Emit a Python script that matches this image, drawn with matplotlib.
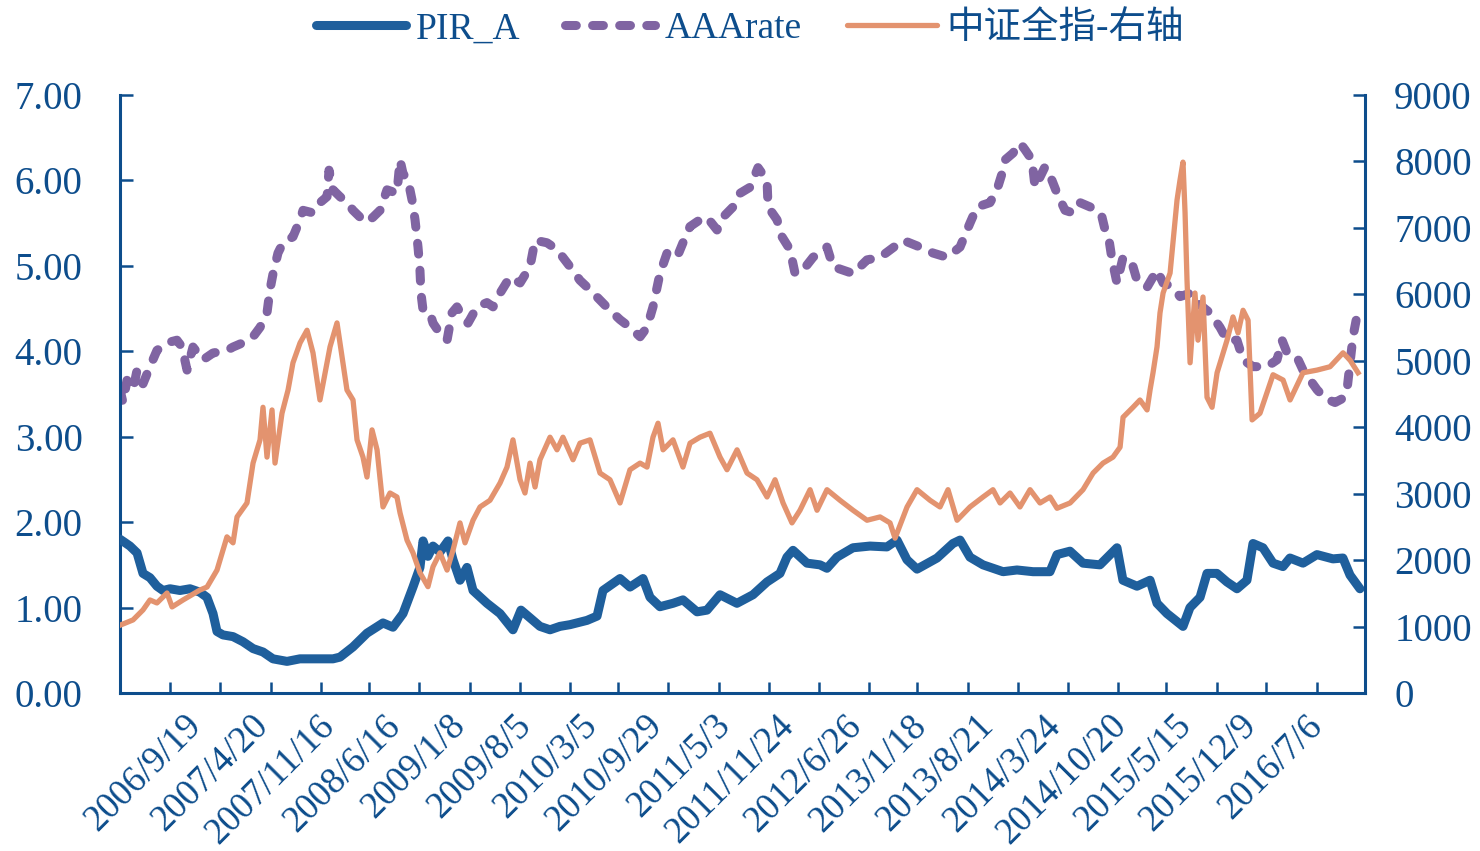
import numpy as np
import pandas as pd
import matplotlib
matplotlib.use("Agg")
import matplotlib.pyplot as plt
from matplotlib.lines import Line2D

# ---------------- data (time in decimal years) ----------------
pir_t = [2006.153,2006.197,2006.240,2006.302,2006.354,2006.415,2006.476,2006.529,2006.590,2006.677,
         2006.765,2006.852,2006.913,2006.966,2007.001,2007.053,2007.141,2007.228,2007.316,2007.403,
         2007.490,2007.613,2007.726,2007.814,2007.901,2008.015,2008.076,2008.190,2008.312,2008.452,
         2008.539,2008.627,2008.714,2008.775,2008.802,2008.845,2008.889,2008.950,2009.020,2009.064,
         2009.125,2009.186,2009.239,2009.361,2009.475,2009.588,2009.658,2009.737,2009.824,2009.912,
         2009.999,2010.087,2010.235,2010.323,2010.375,2010.524,2010.611,2010.725,2010.786,2010.873,
         2010.987,2011.074,2011.197,2011.284,2011.398,2011.546,2011.686,2011.809,2011.922,2011.983,
         2012.036,2012.158,2012.272,2012.333,2012.420,2012.560,2012.709,2012.857,2012.945,2013.032,
         2013.120,2013.295,2013.434,2013.496,2013.583,2013.697,2013.872,2013.994,2014.134,2014.282,
         2014.344,2014.457,2014.571,2014.719,2014.868,2014.920,2015.043,2015.157,2015.218,2015.305,
         2015.445,2015.506,2015.594,2015.655,2015.742,2015.829,2015.917,2016.004,2016.057,2016.144,
         2016.232,2016.319,2016.380,2016.494,2016.616,2016.756,2016.843,2016.905,2016.992]
pir_v = [1.80,1.76,1.72,1.64,1.40,1.35,1.25,1.20,1.22,1.20,
         1.22,1.18,1.12,0.93,0.72,0.68,0.66,0.60,0.52,0.48,
         0.40,0.37,0.40,0.40,0.40,0.40,0.42,0.54,0.70,0.82,
         0.77,0.93,1.24,1.47,1.78,1.60,1.72,1.65,1.78,1.56,
         1.32,1.47,1.20,1.05,0.93,0.74,0.97,0.88,0.78,0.74,
         0.78,0.80,0.85,0.90,1.20,1.34,1.24,1.34,1.12,1.01,
         1.05,1.09,0.95,0.97,1.15,1.05,1.15,1.30,1.40,1.59,
         1.67,1.52,1.50,1.46,1.59,1.70,1.72,1.71,1.79,1.56,
         1.45,1.58,1.75,1.79,1.59,1.50,1.42,1.44,1.42,1.42,
         1.62,1.66,1.52,1.50,1.70,1.32,1.25,1.32,1.05,0.93,
         0.78,1.00,1.12,1.40,1.40,1.30,1.22,1.32,1.75,1.70,
         1.52,1.48,1.58,1.52,1.62,1.57,1.58,1.38,1.22]

aaa_t = [2006.153,2006.179,2006.214,2006.267,2006.302,2006.354,2006.415,2006.476,2006.564,2006.651,
         2006.695,2006.739,2006.791,2006.879,2006.966,2007.088,2007.141,2007.228,2007.316,2007.377,
         2007.438,2007.464,2007.491,2007.534,2007.578,2007.665,2007.727,2007.753,2007.840,2007.901,
         2007.963,2007.980,2008.015,2008.076,2008.137,2008.190,2008.251,2008.312,2008.365,2008.426,
         2008.487,2008.574,2008.601,2008.627,2008.671,2008.706,2008.732,2008.758,2008.775,2008.784,
         2008.802,2008.863,2008.889,2008.950,2009.012,2009.055,2009.099,2009.151,2009.195,2009.274,
         2009.361,2009.414,2009.475,2009.562,2009.650,2009.737,2009.781,2009.886,2009.973,2010.087,
         2010.174,2010.261,2010.349,2010.436,2010.524,2010.611,2010.699,2010.760,2010.812,2010.873,
         2010.935,2011.022,2011.074,2011.136,2011.223,2011.284,2011.372,2011.424,2011.512,2011.573,
         2011.660,2011.730,2011.809,2011.818,2011.896,2011.940,2012.010,2012.054,2012.123,2012.211,
         2012.333,2012.386,2012.473,2012.561,2012.683,2012.797,2012.858,2012.998,2013.146,2013.260,
         2013.382,2013.496,2013.583,2013.645,2013.758,2013.819,2013.863,2013.889,2013.959,2014.020,
         2014.064,2014.125,2014.152,2014.195,2014.239,2014.300,2014.344,2014.414,2014.484,2014.545,
         2014.632,2014.702,2014.737,2014.764,2014.799,2014.825,2014.868,2014.921,2015.000,2015.043,
         2015.131,2015.218,2015.271,2015.358,2015.419,2015.507,2015.568,2015.681,2015.769,2015.830,
         2015.917,2015.970,2016.057,2016.180,2016.267,2016.311,2016.355,2016.442,2016.494,2016.617,
         2016.687,2016.774,2016.844,2016.879,2016.931,2016.975]
aaa_v = [3.55,3.40,3.66,3.55,3.78,3.62,3.82,4.01,4.10,4.13,
         4.05,3.78,4.05,3.90,3.98,4.01,4.05,4.10,4.17,4.28,
         4.45,4.72,4.91,5.15,5.27,5.34,5.54,5.65,5.62,5.74,
         5.81,6.12,5.89,5.81,5.74,5.65,5.57,5.51,5.57,5.65,
         5.89,5.85,6.24,6.08,6.00,5.77,5.54,5.22,4.95,4.68,
         4.48,4.45,4.33,4.21,4.13,4.45,4.52,4.40,4.33,4.52,
         4.57,4.52,4.68,4.87,4.80,4.99,5.30,5.27,5.19,4.99,
         4.83,4.72,4.60,4.48,4.37,4.28,4.17,4.28,4.52,4.91,
         5.15,5.10,5.27,5.46,5.54,5.57,5.42,5.57,5.69,5.85,
         5.92,6.15,6.00,5.69,5.54,5.34,5.19,4.91,4.95,5.10,
         5.22,4.99,4.95,4.91,5.07,5.10,5.16,5.30,5.22,5.15,
         5.10,5.22,5.50,5.69,5.74,5.89,6.08,6.24,6.32,6.44,
         6.36,6.24,5.92,6.04,6.16,6.00,5.85,5.65,5.62,5.74,
         5.69,5.65,5.57,5.42,5.30,5.07,4.80,5.10,5.03,4.83,
         4.75,4.95,4.80,4.75,4.64,4.68,4.57,4.45,4.28,4.13,
         4.13,3.90,3.82,3.82,3.90,4.13,3.98,3.93,3.78,3.55,
         3.45,3.40,3.45,3.55,4.17,4.48]

csi_t = [2006.153,2006.267,2006.354,2006.415,2006.476,2006.564,2006.608,2006.704,2006.852,2006.914,
         2007.001,2007.088,2007.141,2007.176,2007.263,2007.316,2007.377,2007.403,2007.438,2007.482,
         2007.508,2007.569,2007.622,2007.665,2007.727,2007.788,2007.840,2007.901,2007.989,2008.050,
         2008.102,2008.137,2008.190,2008.225,2008.277,2008.312,2008.356,2008.400,2008.452,2008.513,
         2008.574,2008.601,2008.662,2008.714,2008.775,2008.845,2008.889,2008.950,2009.012,2009.064,
         2009.125,2009.169,2009.239,2009.300,2009.387,2009.475,2009.536,2009.588,2009.650,2009.693,
         2009.737,2009.781,2009.824,2009.912,2009.973,2010.025,2010.113,2010.174,2010.261,2010.349,
         2010.436,2010.524,2010.611,2010.699,2010.760,2010.812,2010.856,2010.900,2010.987,2011.074,
         2011.136,2011.223,2011.310,2011.398,2011.459,2011.547,2011.634,2011.721,2011.809,2011.879,
         2011.949,2012.027,2012.097,2012.185,2012.246,2012.333,2012.447,2012.561,2012.683,2012.797,
         2012.884,2012.928,2013.033,2013.120,2013.234,2013.321,2013.391,2013.470,2013.583,2013.697,
         2013.784,2013.846,2013.933,2014.020,2014.108,2014.195,2014.283,2014.344,2014.458,2014.571,
         2014.659,2014.746,2014.833,2014.895,2014.921,2015.008,2015.069,2015.131,2015.157,2015.183,
         2015.218,2015.244,2015.271,2015.332,2015.393,2015.419,2015.445,2015.463,2015.480,2015.507,
         2015.550,2015.576,2015.620,2015.655,2015.699,2015.743,2015.830,2015.882,2015.926,2015.970,
         2016.014,2016.049,2016.118,2016.232,2016.320,2016.381,2016.494,2016.617,2016.730,2016.844,
         2016.905,2016.975]
csi_v = [1020,1100,1250,1400,1355,1505,1295,1400,1550,1595,
         1850,2350,2260,2650,2860,3460,3810,4300,3550,4260,
         3460,4210,4560,4970,5270,5460,5120,4410,5210,5570,
         4970,4560,4410,3810,3550,3250,3960,3660,2800,3010,
         2950,2710,2300,2110,1810,1600,1900,2110,1850,2150,
         2560,2260,2600,2800,2900,3160,3400,3810,3210,3010,
         3460,3100,3510,3850,3660,3850,3510,3760,3810,3310,
         3210,2860,3360,3460,3400,3850,4060,3660,3810,3400,
         3760,3850,3910,3550,3360,3660,3310,3210,2950,3210,
         2860,2560,2750,3060,2750,3060,2900,2750,2600,2650,
         2560,2330,2800,3060,2900,2800,3060,2600,2800,2950,
         3060,2860,3010,2800,3060,2860,2950,2780,2860,3060,
         3310,3460,3550,3700,4150,4300,4410,4260,4560,4820,
         5210,5720,6020,6320,7420,7720,7990,7230,6220,4970,
         6020,5310,5960,4450,4300,4820,5310,5660,5420,5760,
         5610,4110,4210,4790,4710,4410,4820,4860,4910,5120,
         5010,4820]

x_labels = ["2006/9/19", "2007/4/20", "2007/11/16", "2008/6/16", "2009/1/8", "2009/8/5",
            "2010/3/5", "2010/9/29", "2011/5/3", "2011/11/24", "2012/6/26", "2013/1/18",
            "2013/8/21", "2014/3/24", "2014/10/20", "2015/5/15", "2015/12/9", "2016/7/6"]
tick_dates = ["2006-08-05", "2007-01-11", "2007-06-22", "2007-11-29", "2008-05-01", "2008-10-08",
              "2009-03-18", "2009-08-25", "2010-02-01", "2010-07-04", "2010-12-11", "2011-05-22",
              "2011-10-29", "2012-04-07", "2012-09-13", "2013-02-14", "2013-07-25", "2014-01-02",
              "2014-06-11", "2014-11-17", "2015-04-18", "2015-09-28", "2016-03-05", "2016-08-14"]
left_ticks = [0, 1, 2, 3, 4, 5, 6, 7]
right_ticks = [0, 1000, 2000, 3000, 4000, 5000, 6000, 7000, 8000, 9000]
series_names = ["PIR_A", "AAArate", "中证全指-右轴"]

# ---------------- style ----------------
C_TEXT = "#0d4d8c"
C_AXIS = "#0d4d8c"
C_PIR = "#1f5f9c"
C_AAA = "#8064a2"
C_CSI = "#e3936f"
FS = 28

plt.rcParams["font.family"] = ["Liberation Serif", "Noto Sans CJK SC"]


def to_year(s):
    d = pd.to_datetime(s.replace("/", "-"))
    return 2006 + (d - pd.Timestamp("2006-01-01")).days / 365.25


fig = plt.figure(figsize=(14.8, 8.51), dpi=100)
L, R, B, T = 120 / 1480, 1365 / 1480, 1 - 693 / 851, 1 - 95 / 851
ax = fig.add_axes([L, B, R - L, T - B])
ax2 = ax.twinx()

ax.plot(pir_t, pir_v, color=C_PIR, lw=6.5, solid_joinstyle="round", solid_capstyle="round", zorder=3)
ax.plot(aaa_t, aaa_v, color=C_AAA, lw=6.5, linestyle=(0, (1.2, 1.8)),
        dash_capstyle="round", dash_joinstyle="round", zorder=2)
ax2.plot(csi_t, csi_v, color=C_CSI, lw=3.8, solid_joinstyle="round", zorder=3)

ax.set_xlim(2006.153, 2017.036)
ax.set_ylim(0, 7)
ax2.set_ylim(0, 9000)

for a in (ax, ax2):
    a.spines["top"].set_visible(False)
    for s in ("left", "right", "bottom"):
        a.spines[s].set_color(C_AXIS)
        a.spines[s].set_linewidth(2.2)
ax.spines["right"].set_visible(False)
ax2.spines["left"].set_visible(False)
ax2.spines["bottom"].set_visible(False)

ax.set_yticks(left_ticks)
ax.set_yticklabels([f"{v:.2f}" for v in left_ticks])
ax.tick_params(axis="y", direction="in", length=9, width=1.8, color=C_AXIS,
               labelsize=FS, labelcolor=C_TEXT, pad=27)
ax2.set_yticks(right_ticks)
ax2.set_yticklabels([str(v) for v in right_ticks])
ax2.tick_params(axis="y", direction="in", length=9, width=1.8, color=C_AXIS,
                labelsize=FS, labelcolor=C_TEXT, pad=21)

ax.set_xticks([to_year(d) for d in tick_dates])
ax.set_xticklabels([])
ax.tick_params(axis="x", which="major", direction="in", length=8, width=1.8, color=C_AXIS)
ax.set_xticks([to_year(d) for d in x_labels], labels=x_labels, minor=True)
ax.tick_params(axis="x", which="minor", length=0, labelsize=26.5, labelcolor=C_TEXT, pad=11)
for lbl in ax.get_xticklabels(minor=True):
    lbl.set_rotation(45)
    lbl.set_ha("right")
    lbl.set_va("top")
    lbl.set_rotation_mode("anchor")

handles = [
    Line2D([], [], color=C_PIR, lw=6.5, solid_capstyle="round"),
    Line2D([], [], color=C_AAA, lw=6.5, linestyle=(0, (1.2, 1.8)), dash_capstyle="round"),
    Line2D([], [], color=C_CSI, lw=3.8, solid_capstyle="round"),
]
fig.legend(handles, series_names, loc="center", bbox_to_anchor=(750 / 1480, 1 - 29 / 851),
           ncol=3, frameon=False, fontsize=27, labelcolor=C_TEXT,
           handlelength=2.4, handletextpad=0.25, columnspacing=1.2)

fig.savefig("out.png", dpi=100, facecolor="white")
